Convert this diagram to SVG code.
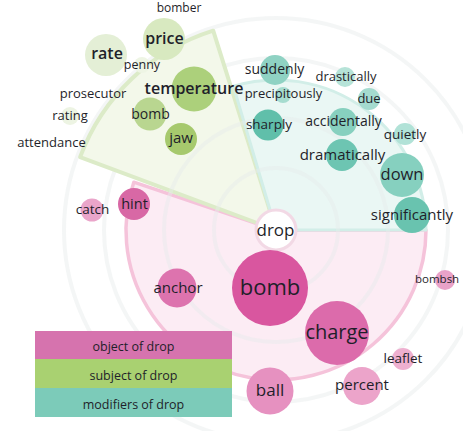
<svg xmlns="http://www.w3.org/2000/svg" width="463" height="431" viewBox="0 0 463 431">
<style>
text{font-family:"Open Sans","Noto Sans","DejaVu Sans",sans-serif;fill:#1f1f2a;text-anchor:middle}
.b{font-weight:600}
.ring{fill:none;stroke:#e6ecea;stroke-width:4;opacity:0.45}
.lg{font-size:12.5px}
</style>
<rect width="463" height="431" fill="#ffffff"/>
<g id="background">
<circle class="ring" cx="276" cy="230" r="212"/>
<circle class="ring" cx="276" cy="230" r="172"/>
</g>
<g id="sectors">
<path id="sector-object" d="M276,230 L426,230 A150,150 0 1,1 133.8,182.2 Z" fill="#fcecf4" stroke="#f5c3da" stroke-width="3.5" stroke-linejoin="round"/>
<path id="sector-subject" d="M276,230 L80.1,157.1 A209,209 0 0,1 213.2,30.7 Z" fill="#f3f8ea" stroke="#dcebc8" stroke-width="4" stroke-linejoin="round"/>
<path id="sector-modifiers" d="M276,230 L233.4,86.1 A150,150 0 0,1 426,230 Z" fill="#eaf7f4" stroke="#d2eee8" stroke-width="3" stroke-linejoin="round"/>
</g>
<g id="rings-over">
<circle class="ring" cx="276" cy="230" r="62"/>
<circle class="ring" cx="276" cy="230" r="112"/>
</g>
<g id="connectors"></g>
<g id="node-drop"><circle cx="276" cy="230" r="20" fill="#ffffff" stroke="#f2d9e5" stroke-width="3"/><text x="275.5" y="236" font-size="17">drop</text></g>
<g id="node-obj-bomb"><circle cx="270" cy="288" r="38" fill="#d9569f"/><text x="270" y="295" font-size="22">bomb</text></g>
<g id="node-charge"><circle cx="337" cy="333" r="32" fill="#dc6bab"/><text x="337" y="339" font-size="20">charge</text></g>
<g id="node-anchor"><circle cx="177" cy="288" r="19.5" fill="#dd73ae"/><text x="178" y="293" font-size="15">anchor</text></g>
<g id="node-hint"><circle cx="134" cy="204" r="16" fill="#d868a5"/><text x="134.5" y="208.5" font-size="14.5">hint</text></g>
<g id="node-catch"><circle cx="92" cy="210" r="11.5" fill="#eaa5ca"/><text x="92.5" y="214" font-size="13.5">catch</text></g>
<g id="node-ball"><circle cx="270" cy="391" r="23.5" fill="#e691c0"/><text x="270" y="396" font-size="17">ball</text></g>
<g id="node-percent"><circle cx="362" cy="386" r="19" fill="#eca4ca"/><text x="362" y="390" font-size="15">percent</text></g>
<g id="node-leaflet"><circle cx="403" cy="359" r="11" fill="#eeb0d0"/><text x="403" y="362.5" font-size="13.5">leaflet</text></g>
<g id="node-bombsh"><circle cx="445" cy="280" r="10" fill="#e9a2c8"/><text x="415" y="283" font-size="11.5" style="text-anchor:start">bombsh</text></g>
<g id="node-temperature"><circle cx="194" cy="89" r="22.5" fill="#acd07b"/><text class="b" x="194" y="94" font-size="16">temperature</text></g>
<g id="node-price"><circle cx="164" cy="39" r="21" fill="#d8e9c0"/><text class="b" x="164.5" y="44" font-size="16">price</text></g>
<g id="node-rate"><circle cx="106" cy="55" r="21" fill="#e4efd6"/><text class="b" x="107" y="59" font-size="16">rate</text></g>
<g id="node-penny"><circle cx="142" cy="65" r="8" fill="#eef5e4"/><text x="142" y="69" font-size="12.5">penny</text></g>
<g id="node-subj-bomb"><circle cx="150" cy="114" r="16.5" fill="#b9d690"/><text x="150.5" y="119" font-size="14">bomb</text></g>
<g id="node-jaw"><circle cx="181" cy="139" r="16" fill="#a6c96d"/><text x="181" y="142.5" font-size="15">jaw</text></g>
<g id="node-bomber"><text x="179" y="12" font-size="12">bomber</text></g>
<g id="node-prosecutor"><text x="93" y="98" font-size="13">prosecutor</text></g>
<g id="node-rating"><circle cx="70" cy="116" r="9" fill="#edf4e3"/><text x="70" y="120" font-size="13">rating</text></g>
<g id="node-attendance"><text x="51.5" y="147" font-size="13">attendance</text></g>
<g id="node-suddenly"><circle cx="275" cy="70" r="15" fill="#8fd2c3"/><text x="274.5" y="74" font-size="14">suddenly</text></g>
<g id="node-precipitously"><circle cx="283" cy="95" r="8" fill="#a6dccf"/><text x="283.5" y="98" font-size="13">precipitously</text></g>
<g id="node-drastically"><circle cx="345" cy="77" r="10" fill="#b6e3d8"/><text x="346" y="81" font-size="13">drastically</text></g>
<g id="node-due"><circle cx="369" cy="99" r="11" fill="#a4dbcf"/><text x="369" y="103" font-size="13">due</text></g>
<g id="node-sharply"><circle cx="268" cy="125" r="15.5" fill="#60bfaa"/><text x="269" y="128.5" font-size="13.5">sharply</text></g>
<g id="node-accidentally"><circle cx="343" cy="122" r="14" fill="#87d0bf"/><text x="343.5" y="126" font-size="14">accidentally</text></g>
<g id="node-quietly"><circle cx="405" cy="134" r="11" fill="#b1e2d7"/><text x="405" y="139" font-size="13.5">quietly</text></g>
<g id="node-dramatically"><circle cx="342" cy="155" r="16" fill="#6dc5b2"/><text x="342.5" y="160" font-size="15">dramatically</text></g>
<g id="node-down"><circle cx="402" cy="175" r="22" fill="#86d0bf"/><text x="402" y="179.5" font-size="16.5">down</text></g>
<g id="node-significantly"><circle cx="412" cy="215" r="18" fill="#69c3af"/><text x="412" y="220" font-size="15">significantly</text></g>
<g id="legend">
<rect x="35" y="331" width="197" height="28" fill="#d673ae"/>
<rect x="35" y="359" width="197" height="29" fill="#a9d171"/>
<rect x="35" y="388" width="197" height="29" fill="#7ccbb9"/>
<text class="lg" x="133.5" y="351">object of drop</text>
<text class="lg" x="133.5" y="380">subject of drop</text>
<text class="lg" x="133.5" y="409">modifiers of drop</text>
</g>
</svg>
